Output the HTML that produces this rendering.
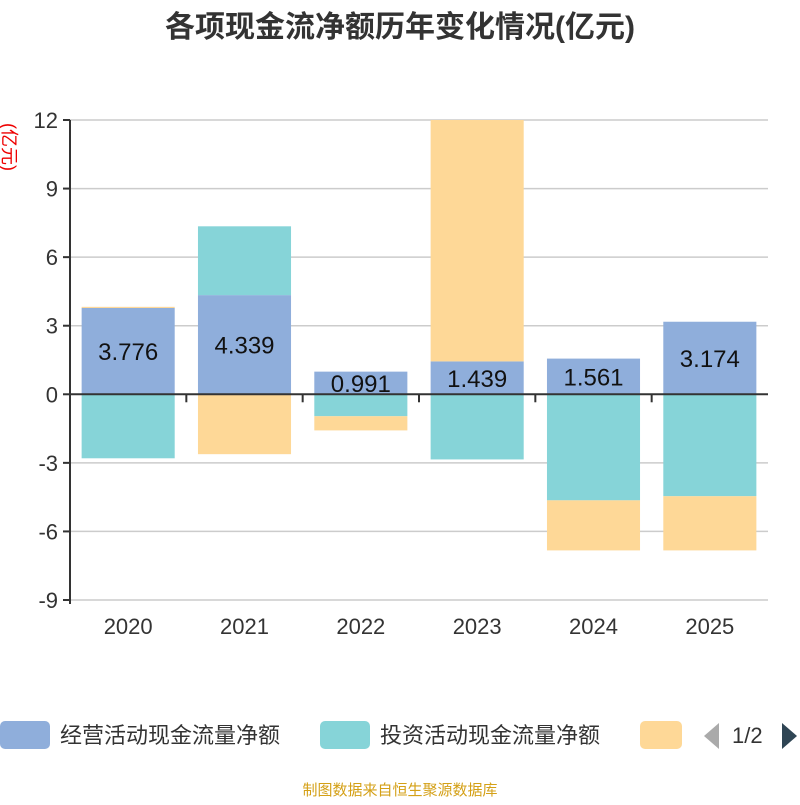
<!DOCTYPE html>
<html><head><meta charset="utf-8"><style>
body{margin:0;background:#fff;width:800px;height:800px;overflow:hidden;font-family:"Liberation Sans","Noto Sans CJK SC",sans-serif}
</style></head><body>
<svg id="c" width="800" height="800" xmlns="http://www.w3.org/2000/svg">
<text x="400" y="37" text-anchor="middle" font-size="30" font-weight="bold" fill="#333" font-family="Liberation Sans,Noto Sans CJK SC,sans-serif">各项现金流净额历年变化情况(亿元)</text>
<text transform="translate(3,147) rotate(90)" text-anchor="middle" font-size="18" fill="#e00" font-family="Liberation Sans,Noto Sans CJK SC,sans-serif">(亿元)</text>
<g id="grid"></g><g id="bars"></g><g id="axes"></g><g id="labels"></g>
<g font-family="Liberation Sans,Noto Sans CJK SC,sans-serif" font-size="22" fill="#333">
<rect x="0" y="721" width="50" height="28" rx="5" fill="#8FAEDB"/>
<text x="60" y="743">经营活动现金流量净额</text>
<rect x="320" y="721" width="50" height="28" rx="5" fill="#86D4D8"/>
<text x="380" y="743">投资活动现金流量净额</text>
<rect x="640" y="721" width="42" height="28" rx="5" fill="#FED897"/>
<polygon points="719,723 719,749 704,736" fill="#aaa"/>
<text x="732" y="743">1/2</text>
<polygon points="782,723 782,749 797,736" fill="#2f4554"/>
</g>
<text x="400" y="795" text-anchor="middle" font-size="15" fill="#d4a017" font-family="Liberation Sans,Noto Sans CJK SC,sans-serif">制图数据来自恒生聚源数据库</text>
</svg>
<script>
const categories=["2020","2021","2022","2023","2024","2025"];
const operating=[3.776,4.339,0.991,1.439,1.561,3.174];
const investing=[-2.8,3.01,-0.96,-2.85,-4.64,-4.46];
const financing=[0.05,-2.62,-0.62,11.5,-2.19,-2.37];
const yTicks=[12,9,6,3,0,-3,-6,-9];
const NS="http://www.w3.org/2000/svg";
const L=70,R=768,T=120,B=600,yMax=12,yMin=-9;
const y=v=>T+(yMax-v)/(yMax-yMin)*(B-T);
const bw=(R-L)/categories.length;
const x=i=>L+bw*i;
function mk(tag,at,parent){const e=document.createElementNS(NS,tag);for(const k in at)e.setAttribute(k,at[k]);document.getElementById(parent).appendChild(e);return e;}
yTicks.forEach(t=>{
  const g=mk('line',{x1:L,x2:R,y1:y(t),y2:y(t),stroke:'#ccc','stroke-width':1.5},'grid');
  
  
  const tk=mk('line',{x1:L-7,x2:L,y1:y(t),y2:y(t),stroke:'#333','stroke-width':2},'axes');
  
  
  const tx=mk('text',{x:L-12,y:y(t)+8,'text-anchor':'end','font-size':22,fill:'#333'},'axes');
  tx.textContent=t;
  
  
});
const series=[[operating,'#8FAEDB','operating'],[investing,'#86D4D8','investing'],[financing,'#FED897','financing']];
categories.forEach((c,i)=>{
  let pos=0,neg=0;
  series.forEach(([arr,col,nm])=>{
    const v=arr[i];let a,b;
    if(v>=0){a=pos;b=pos+v;pos=b;}else{a=neg;b=neg+v;neg=b;}
    const y1=Math.max(T,Math.min(B,y(Math.max(a,b)))),y2=Math.max(T,Math.min(B,y(Math.min(a,b))));
    const r=mk('rect',{x:x(i)+bw*0.1,width:bw*0.8,y:y1,height:Math.max(0,y2-y1),fill:col},'bars');
    
    
  });
  const lb=mk('text',{x:x(i)+bw/2,y:y(operating[i]/2)+9,'text-anchor':'middle','font-size':24,fill:'#111'},'labels');
  lb.textContent=operating[i].toFixed(3);
  
  
  const xl=mk('text',{x:x(i)+bw/2,y:634,'text-anchor':'middle','font-size':22,fill:'#333'},'axes');
  xl.textContent=c;
  
  
});
for(let i=1;i<categories.length;i++){
  const t=mk('line',{x1:x(i),x2:x(i),y1:y(0),y2:y(0)+8,stroke:'#333','stroke-width':2},'axes');
  
  
}
const xa=mk('line',{x1:L,x2:R,y1:y(0),y2:y(0),stroke:'#333','stroke-width':2},'axes');


const ya=mk('line',{x1:L,x2:L,y1:T,y2:B+4,stroke:'#333','stroke-width':2},'axes');


</script>
</body></html>
